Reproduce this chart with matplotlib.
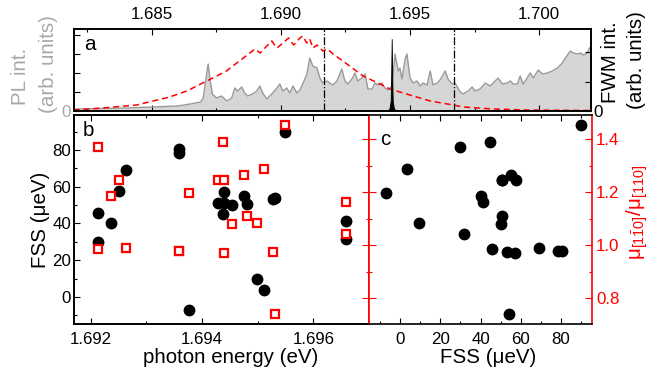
import numpy as np
import matplotlib.pyplot as plt
from matplotlib.ticker import MultipleLocator, FormatStrFormatter

plt.rcParams['font.family'] = ['Liberation Sans', 'DejaVu Sans']
plt.rcParams['mathtext.fontset'] = 'custom'
plt.rcParams['mathtext.rm'] = 'Liberation Sans'
plt.rcParams['mathtext.it'] = 'Liberation Sans:italic'
plt.rcParams['xtick.direction'] = 'in'
plt.rcParams['ytick.direction'] = 'in'

# panel a: PL spectrum (grey), laser spectrum (red dashed), FWM line (black)
pl_e = [1.6820, 1.6830, 1.6840, 1.6850, 1.6860, 1.6865, 1.6869, 1.6870, 1.68712, 1.68719,
        1.68727, 1.68735, 1.68752, 1.68771, 1.68791, 1.68810, 1.68822, 1.68833, 1.68849, 1.68860,
        1.68872, 1.68891, 1.68907, 1.68919, 1.68930, 1.68946, 1.68965, 1.68985, 1.68996, 1.69008,
        1.69023, 1.69035, 1.69047, 1.69062, 1.69074, 1.69085, 1.69101, 1.69112, 1.69124, 1.69140,
        1.69151, 1.69163, 1.69178, 1.69195, 1.69202, 1.69217, 1.69236, 1.69248, 1.69260, 1.69275,
        1.69287, 1.69298, 1.69314, 1.69326, 1.69337, 1.69353, 1.69364, 1.69376, 1.69391, 1.69403,
        1.69415, 1.69430, 1.69442, 1.69454, 1.69461, 1.69469, 1.69481, 1.69488, 1.69500, 1.69512,
        1.69527, 1.69539, 1.69550, 1.69566, 1.69578, 1.69589, 1.69605, 1.69616, 1.69636, 1.69647,
        1.69663, 1.69674, 1.69694, 1.69705, 1.69725, 1.69740, 1.69752, 1.69771, 1.69791, 1.69810,
        1.69829, 1.69841, 1.69857, 1.69876, 1.69888, 1.69899, 1.69915, 1.69926, 1.69938, 1.69953,
        1.69965, 1.69977, 1.69996, 1.70012, 1.70031, 1.70050, 1.70070, 1.70089, 1.70101, 1.70120,
        1.70132, 1.70147, 1.70159, 1.70171, 1.70186, 1.70194, 1.70202]
pl_i = [2, 2.5, 3, 4, 5, 7, 9, 13, 35, 47,
        30, 17, 13, 15, 10, 13, 23, 20, 24, 18,
        15, 17, 20, 25, 18, 12, 17, 23, 27, 20,
        23, 18, 25, 18, 21, 27, 37, 53, 45, 43,
        33, 28, 30, 27, 26, 30, 42, 30, 27, 32,
        38, 30, 33, 37, 22, 22, 28, 26, 28, 23,
        21, 25, 57, 40, 43, 32, 52, 57, 33, 28,
        30, 25, 28, 26, 40, 26, 28, 31, 40, 32,
        27, 28, 19, 17, 20, 24, 20, 22, 28, 25,
        30, 33, 27, 28, 30, 27, 27, 35, 27, 33,
        38, 33, 41, 37, 38, 40, 43, 48, 53, 60,
        58, 57, 58, 56, 58, 63, 65]

laser_e = [1.68198, 1.68310, 1.68442, 1.68570, 1.68636, 1.68698, 1.68752, 1.68790, 1.68814, 1.68840,
           1.68860, 1.68880, 1.68900, 1.68920, 1.68946, 1.68965, 1.68985, 1.69008, 1.69030, 1.69050,
           1.69074, 1.69085, 1.69100, 1.69112, 1.69124, 1.69140, 1.69163, 1.69180, 1.69202, 1.69256,
           1.69318, 1.69384, 1.69422, 1.69512, 1.69578, 1.69667, 1.69705, 1.69822, 1.69953, 1.70202]
laser_i = [1, 3, 6, 14, 20, 28, 35, 40, 45, 50,
           54, 58, 62, 58, 65, 70, 63, 68, 73, 66,
           73, 75, 68, 72, 63, 66, 60, 62, 57, 47,
           35, 27, 22, 15, 10, 6, 4, 2, 1, 0.5]

fwm_e = [1.69380, 1.69410, 1.69420, 1.69425, 1.69427, 1.69429, 1.69431, 1.69433, 1.69438, 1.69450, 1.69470]
fwm_i = [0, 0.5, 2, 10, 35, 72, 35, 10, 2, 0.5, 0]

# panels b, c: individual dots
qd_e = [1.69214, 1.69214, 1.69237, 1.69251, 1.69264, 1.69359, 1.69359, 1.69376, 1.69428, 1.69440, 1.69440,
        1.69438, 1.69453, 1.69476, 1.69480, 1.69498, 1.69512, 1.69528, 1.69532, 1.69549, 1.69659, 1.69659]
qd_fss = [45.5, 30.0, 40.4, 57.6, 69.3, 80.4, 78.5, -6.9, 50.9, 57.3, 50.9,
          44.9, 50.0, 55.0, 50.5, 9.6, 3.6, 53.3, 54.0, 89.8, 41.1, 31.8]
qd_ratio = [0.987, 1.369, 1.187, 1.245, 0.989, 0.976, 0.976, 1.195, 1.247, 0.970, 1.245,
            1.390, 1.078, 1.263, 1.111, 1.082, 1.286, 0.974, 0.741, 1.453, 1.164, 1.041]

W, H = 658, 375
fig = plt.figure(figsize=(W / 100, H / 100), dpi=100)


def box(l, t, r, b):
    return [l / W, 1 - b / H, (r - l) / W, (b - t) / H]


TICK = 12.2
LAB = 14.8
grey_txt = '#a8a8a8'

# ---- panel a
axa = fig.add_axes(box(74, 29, 591, 111))
axa.fill_between(pl_e, pl_i, color='#d6d6d6', lw=0)
axa.plot(pl_e, pl_i, color='#999999', lw=1)
axa.plot(laser_e, laser_i, color='red', ls=(0, (4, 2.5)), lw=1.1)
for xv in [1.69168, 1.69671]:
    axa.axvline(xv, color='k', ls='-.', lw=0.9)
axa.set_xlim(1.682, 1.702)
axa.set_ylim(0, 82)
axa.xaxis.set_major_locator(MultipleLocator(0.005))
axa.xaxis.set_minor_locator(MultipleLocator(0.0025))
axa.xaxis.set_major_formatter(FormatStrFormatter('%.3f'))
axa.tick_params(axis='x', which='both', top=True, bottom=True, labeltop=True, labelbottom=False,
                labelsize=TICK, pad=5)
axa.set_yticks([0, 19, 38, 57, 76])
axa.set_yticklabels(['0', '', '', '', ''])
axa.tick_params(axis='y', labelsize=TICK, labelcolor=grey_txt, pad=2)
axa.tick_params(which='major', length=4.5, width=0.8)
axa.tick_params(which='minor', length=2.5, width=0.8)

axa2 = axa.twinx()
axa2.fill_between(fwm_e, fwm_i, color='k', lw=0.6, edgecolor='k')
axa2.set_ylim(0, 82)
axa2.set_yticks([0, 29.5, 59])
axa2.set_yticklabels(['0', '', ''])
axa2.tick_params(axis='y', labelsize=TICK, pad=2, length=4.5, width=0.8)
for ax in (axa, axa2):
    for s in ax.spines.values():
        s.set_linewidth(1.2)
axa.text(0.02, 0.93, 'a', transform=axa.transAxes, fontsize=LAB, va='top', ha='left')

# ---- panel b
axb = fig.add_axes(box(74, 115, 369, 324))
axb.plot(qd_e, qd_fss, 'o', color='k', ms=7.5)
axb.set_xlim(1.6917, 1.6970)
axb.set_ylim(-14.7, 99)
axb.xaxis.set_major_locator(MultipleLocator(0.002))
axb.xaxis.set_minor_locator(MultipleLocator(0.001))
axb.xaxis.set_major_formatter(FormatStrFormatter('%.3f'))
axb.yaxis.set_major_locator(MultipleLocator(20))
axb.yaxis.set_minor_locator(MultipleLocator(10))
axb.tick_params(axis='x', which='both', top=True, labelsize=TICK, pad=6)
axb.tick_params(axis='y', which='both', right=False, labelsize=TICK, pad=2)
axb.tick_params(which='major', length=4.5, width=0.8)
axb.tick_params(which='minor', length=2.5, width=0.8)
axb.set_xlabel('photon energy (eV)', fontsize=LAB)
axb.xaxis.set_label_coords(0.532, -0.115)
axb.set_ylabel('FSS (μeV)', fontsize=LAB, labelpad=2)
axb.text(0.03, 0.97, 'b', transform=axb.transAxes, fontsize=LAB, va='top', ha='left')

axb2 = axb.twinx()
axb2.plot(qd_e, qd_ratio, 's', mfc='white', mec='red', ms=5.2, mew=1.6)
axb2.set_ylim(0.702, 1.491)
axb2.yaxis.set_major_locator(MultipleLocator(0.2))
axb2.yaxis.set_minor_locator(MultipleLocator(0.1))
axb2.tick_params(axis='y', which='both', labelright=False, color='red', width=0.8)
axb2.tick_params(axis='y', which='major', length=5)
axb2.tick_params(axis='y', which='minor', length=2.5)
axb2.spines['right'].set_color('red')
axb.spines['right'].set_color('red')
for ax in (axb, axb2):
    for s in ax.spines.values():
        s.set_linewidth(1.2)

# ---- panel c
axc = fig.add_axes(box(369, 115, 592, 324))
axc.plot(qd_fss, qd_ratio, 'o', color='k', ms=7.5)
axc.set_xlim(-15.5, 95.5)
axc.set_ylim(0.702, 1.491)
axc.xaxis.set_major_locator(MultipleLocator(20))
axc.xaxis.set_minor_locator(MultipleLocator(10))
axc.yaxis.set_major_locator(MultipleLocator(0.2))
axc.yaxis.set_minor_locator(MultipleLocator(0.1))
axc.yaxis.set_major_formatter(FormatStrFormatter('%.1f'))
axc.tick_params(axis='x', which='both', top=True, labelsize=TICK, pad=6)
axc.tick_params(axis='y', which='both', left=True, right=True, labelleft=False, labelright=True,
                color='red', labelcolor='red', labelsize=TICK, pad=3)
axc.tick_params(axis='x', which='major', length=4.5, width=0.8)
axc.tick_params(axis='x', which='minor', length=2.5, width=0.8)
axc.tick_params(axis='y', which='major', length=5, width=0.8)
axc.tick_params(axis='y', which='minor', length=2.5, width=0.8)
axc.spines['left'].set_color('red')
axc.spines['right'].set_color('red')
for s in axc.spines.values():
    s.set_linewidth(1.2)
axc.set_xlabel('FSS (μeV)', fontsize=LAB)
axc.xaxis.set_label_coords(0.534, -0.115)
axc.text(0.05, 0.93, 'c', transform=axc.transAxes, fontsize=LAB, va='top', ha='left')

# side labels
fig.text(21 / W, 1 - 76 / H, 'PL int.', rotation=90, fontsize=LAB, color=grey_txt, ha='center', va='center')
fig.text(48 / W, 1 - 64 / H, '(arb. units)', rotation=90, fontsize=LAB, color=grey_txt, ha='center', va='center')
fig.text(611 / W, 1 - 62 / H, 'FWM int.', rotation=90, fontsize=LAB, color='k', ha='center', va='center')
fig.text(637 / W, 1 - 60 / H, '(arb. units)', rotation=90, fontsize=LAB, color='k', ha='center', va='center')
fig.text(637 / W, 1 - 212 / H, r'$\mathrm{\mu}_{[1\bar{1}0]}/\mathrm{\mu}_{[110]}$', rotation=90,
         fontsize=LAB, color='red', ha='center', va='center')

fig.savefig('out.png', dpi=100)
